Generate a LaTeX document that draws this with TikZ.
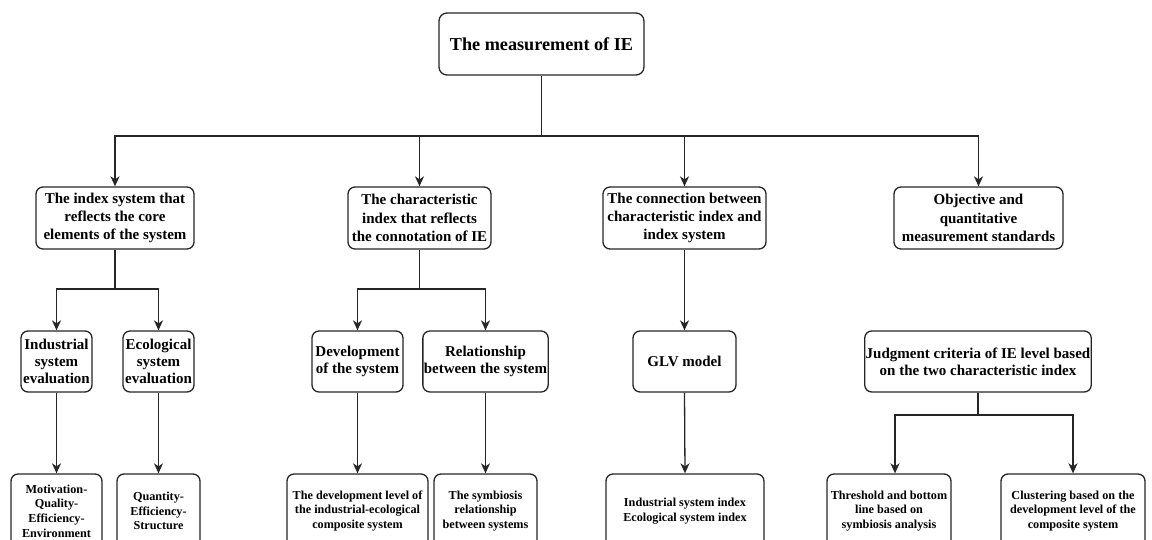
\documentclass[tikz,border=0pt]{standalone}
\usepackage{fontspec}
\setmainfont{Liberation Serif}
\usetikzlibrary{arrows.meta}
\begin{document}
\begin{tikzpicture}[x=1pt,y=-1pt,
  nb/.style={draw=black!85, line width=1.3pt, rounded corners=7pt, align=center, inner sep=1pt, fill=white},
  fa/.style={nb, font=\bfseries\fontsize{18.2}{21}\selectfont, rounded corners=8pt},
  fb/.style={nb, font=\bfseries\fontsize{15}{18.3}\selectfont, minimum height=62},
  fc/.style={nb, font=\bfseries\fontsize{15}{16.8}\selectfont, minimum height=61},
  fd/.style={nb, font=\bfseries\fontsize{12.2}{14.6}\selectfont, minimum height=74},
  ln/.style={draw=black!85, line width=1.3pt},
  arr/.style={ln, -{Stealth[length=10pt,width=9pt,inset=3pt]}}]
\clip (0,0) rectangle (1152,540);
\useasboundingbox (0,0) rectangle (1152,540);
% level 0
\node[fa, minimum width=205, minimum height=62] (top) at (541.5,44) {The measurement of IE};
% level 1
\node[fb, minimum width=158] (A) at (115,218) {The index system that\\reflects the core\\elements of the system};
\node[fb, minimum width=143] (B) at (419.5,218) {The characteristic\\index that reflects\\the connotation of IE};
\node[fb, minimum width=163] (C) at (684.5,218) {The connection between\\characteristic index and\\index system};
\node[fb, minimum width=169] (D) at (978.5,218) {Objective and\\quantitative\\measurement standards};
% level 2
\node[fc, minimum width=71] (A1) at (56.5,361.5) {Industrial\\system\\evaluation};
\node[fc, minimum width=71] (A2) at (158.5,361.5) {Ecological\\system\\evaluation};
\node[fc, minimum width=91] (B1) at (357.5,361.5) {Development\\of the system};
\node[fc, minimum width=123] (B2) at (485.5,361.5) {Relationship\\between the system};
\node[fc, minimum width=103] (C1) at (684.5,361.5) {GLV model};
\node[fc, minimum width=220] (D1) at (978,361.5) {Judgment criteria of IE level based\\on the two characteristic index};
% level 3
\node[fd, minimum width=91] (A1b) at (56.5,511) {Motivation-\\Quality-\\Efficiency-\\Environment};
\node[fd, minimum width=83] (A2b) at (158.5,511) {Quantity-\\Efficiency-\\Structure};
\node[fd, minimum width=141] (B1b) at (357.5,511) {The development level of\\the industrial-ecological\\composite system};
\node[fd, minimum width=103] (B2b) at (485.5,511) {The symbiosis\\relationship\\between systems};
\node[fd, minimum width=158] (C1b) at (685,511) {Industrial system index\\Ecological system index};
\node[fd, minimum width=124] (D1b) at (889,511) {Threshold and bottom\\line based on\\symbiosis analysis};
\node[fd, minimum width=144] (D2b) at (1073,511) {Clustering based on the\\development level of the\\composite system};
% connectors
\coordinate (bus) at (541.5,136);
\draw[ln] (top.south) -- (bus);
\draw[arr] (bus) -| (A.north);
\draw[arr] (bus) -| (B.north);
\draw[arr] (bus) -| (C.north);
\draw[arr] (bus) -| (D.north);
\coordinate (abus) at (115,289);
\draw[ln] (A.south) -- (abus);
\draw[arr] (abus) -| (A1.north);
\draw[arr] (abus) -| (A2.north);
\coordinate (bbus) at (419.5,289);
\draw[ln] (B.south) -- (bbus);
\draw[arr] (bbus) -| (B1.north);
\draw[arr] (bbus) -| (B2.north);
\draw[arr] (C.south) -- (C1.north);
\draw[arr] (A1.south) -- (A1b.north);
\draw[arr] (A2.south) -- (A2b.north);
\draw[arr] (B1.south) -- (B1b.north);
\draw[arr] (B2.south) -- (B2b.north);
\draw[arr] (C1.south) -- (C1b.north);
\coordinate (dbus) at (978,415);
\coordinate (d1in) at ([xshift=6pt]D1b.north);
\draw[ln] (D1.south) -- (dbus);
\draw[arr] (dbus) -| (d1in);
\draw[arr] (dbus) -| (D2b.north);
\end{tikzpicture}
\end{document}
